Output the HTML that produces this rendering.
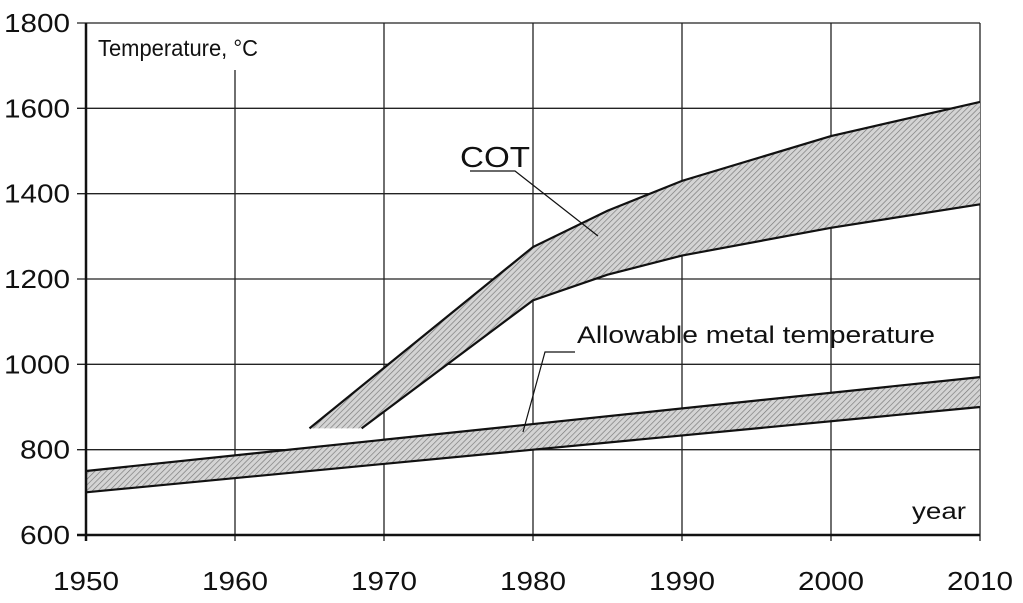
<!DOCTYPE html>
<html><head><meta charset="utf-8"><style>
body{margin:0;background:#fff}
svg text{font-family:"Liberation Sans",sans-serif;fill:#111}
</style></head><body>
<svg width="1023" height="598" xmlns="http://www.w3.org/2000/svg">
<defs><pattern id="h" width="4" height="4" patternUnits="userSpaceOnUse" patternTransform="rotate(45)"><rect width="4" height="4" fill="#d4d4d4"/><line x1="0" y1="0" x2="0" y2="4" stroke="#777" stroke-width="1.3"/></pattern></defs>
<g id="grid"></g>
<g id="bands"></g>
<g id="axes"></g>
<text x="98" y="56" font-size="23" textLength="160" lengthAdjust="spacingAndGlyphs">Temperature, °C</text>
<text x="912" y="519" font-size="23" textLength="54" lengthAdjust="spacingAndGlyphs">year</text>
<text x="460" y="167" font-size="29" textLength="70" lengthAdjust="spacingAndGlyphs">COT</text>
<polyline points="470,171 515,171 598,236" fill="none" stroke="#111" stroke-width="1.2"/>
<text x="577" y="343" font-size="24" textLength="358" lengthAdjust="spacingAndGlyphs">Allowable metal temperature</text>
<polyline points="575,352 545,352 523,432" fill="none" stroke="#111" stroke-width="1.2"/>
</svg>
<script>
const xTicks=[1950,1960,1970,1980,1990,2000,2010];
const yTicks=[600,800,1000,1200,1400,1600,1800];
const cotYears=[1965,1980,1985,1990,2000,2010];
const cotUpper=[850,1275,1360,1430,1535,1615];
const cotLowerYears=[1968.5,1980,1985,1990,2000,2010];
const cotLower=[850,1150,1210,1255,1320,1375];
const metalYears=[1950,2010];
const metalUpper=[750,970];
const metalLower=[700,900];
const X=y=>86+(y-1950)*(894/60);
const Y=v=>535-(v-600)*(512/1200);
const NS="http://www.w3.org/2000/svg";
function mk(p,t,a){const e=document.createElementNS(NS,t);for(const k in a)e.setAttribute(k,a[k]);p.appendChild(e);return e;}
const grid=document.getElementById('grid'),axes=document.getElementById('axes'),bands=document.getElementById('bands');
xTicks.forEach(t=>{
 const l=mk(grid,'line',{x1:X(t),x2:X(t),y1:t==1960?70:Y(1800),y2:Y(600)+6,stroke:'#222','stroke-width':1.3});
 
 
 const tx=mk(axes,'text',{x:X(t),y:590,'font-size':26,'text-anchor':'middle',textLength:66,lengthAdjust:'spacingAndGlyphs'});tx.textContent=t;
 
 
});
yTicks.forEach(t=>{
 const l=mk(grid,'line',{x1:77,x2:X(2010),y1:Y(t),y2:Y(t),stroke:'#222','stroke-width':1.3});
 
 
 const w=t>=1000?66:50;
 const tx=mk(axes,'text',{x:70,y:Y(t)+9,'font-size':26,'text-anchor':'end',textLength:w,lengthAdjust:'spacingAndGlyphs'});tx.textContent=t;
 
 
});
mk(axes,'line',{x1:86,x2:86,y1:Y(1800),y2:Y(600)+6,stroke:'#111','stroke-width':2.5});
mk(axes,'line',{x1:77,x2:X(2010),y1:Y(600),y2:Y(600),stroke:'#111','stroke-width':2.5});
function band(xu,u,xl,l,name){
 const up=xu.map((x,i)=>X(x)+','+Y(u[i]));
 const lo=xl.map((x,i)=>X(x)+','+Y(l[i])).reverse();
 const p=mk(bands,'polygon',{points:up.concat(lo).join(' '),fill:'url(#h)'});
 
 
 const a=mk(bands,'polyline',{points:up.join(' '),fill:'none',stroke:'#111','stroke-width':2.2});
 
 
 const b=mk(bands,'polyline',{points:lo.join(' '),fill:'none',stroke:'#111','stroke-width':2.2});
 
 
}
band(cotYears,cotUpper,cotLowerYears,cotLower,'cot');
band(metalYears,metalUpper,metalYears,metalLower,'metal');
</script>
</body></html>
